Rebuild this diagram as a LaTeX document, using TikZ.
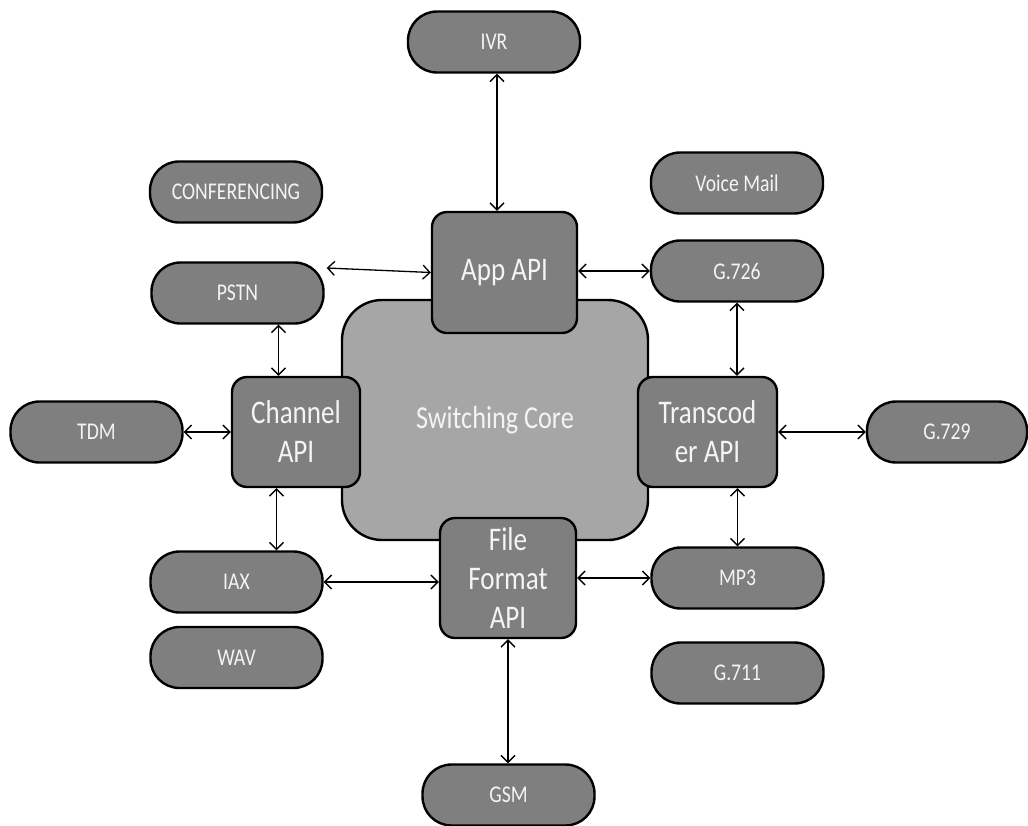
\documentclass[tikz,border=0pt]{standalone}
\usepackage{fontspec}
\setmainfont{Carlito}[FakeStretch=0.82]
\usetikzlibrary{arrows.meta,calc}
\definecolor{pillgray}{HTML}{7F7F7F}
\definecolor{coregray}{HTML}{A6A6A6}
\definecolor{txtwhite}{HTML}{F4F4F4}
\tikzset{
  pill/.style={draw=black, line width=2.4pt, fill=pillgray, rounded corners=29pt,
    minimum width=172pt, minimum height=61pt, inner sep=0pt, text=txtwhite,
    font=\fontsize{24}{28}\selectfont},
  apibox/.style={draw=black, line width=2.4pt, fill=pillgray, rounded corners=15pt,
    inner sep=0pt, text=txtwhite, align=center, font=\fontsize{33}{39}\selectfont},
  corebox/.style={draw=black, line width=2.4pt, fill=coregray, rounded corners=40pt,
    inner sep=0pt, text=txtwhite, font=\fontsize{32}{38}\selectfont},
  link/.style={line width=1.3pt, {Straight Barb[length=7pt,width=14pt]}-{Straight Barb[length=7pt,width=14pt]}}
}
\begin{document}
\begin{tikzpicture}[x=1pt,y=-1pt]
\useasboundingbox[fill=white] (0,0) rectangle (1028,825);
% central core
\node[corebox, minimum width=306pt, minimum height=240pt] (core) at (495,420) {Switching Core};
% API boxes
\node[apibox, minimum width=145pt, minimum height=121pt] (app) at (504.5,272.5) {App API};
\node[apibox, minimum width=128pt, minimum height=110pt] (chan) at (296,432) {Channel\\API};
\node[apibox, minimum width=139pt, minimum height=110pt] (trans) at (707.5,432) {Transcod\\er API};
\node[apibox, minimum width=136pt, minimum height=120pt] (ffa) at (508,578) {File\\Format\\API};
% pills
\node[pill] (ivr) at (494,42) {IVR};
\node[pill] (conf) at (236,192) {CONFERENCING};
\node[pill] (vm) at (737,183) {Voice Mail};
\node[pill] (pstn) at (237.5,293) {PSTN};
\node[pill] (g726) at (737,271) {G.726};
\node[pill] (tdm) at (96.5,432) {TDM};
\node[pill, minimum width=160pt] (g729) at (947,432) {G.729};
\node[pill] (iax) at (236.5,582) {IAX};
\node[pill] (wav) at (236.5,657.5) {WAV};
\node[pill] (mp3) at (737.5,578) {MP3};
\node[pill] (g711) at (737.5,673) {G.711};
\node[pill] (gsm) at (508.5,795) {GSM};
% connectors
\draw[link] ([xshift=3pt]ivr.south) -- ([xshift=3pt]ivr.south |- app.north);
\draw[link] ([shift={(2,-25)}]pstn.east) -- (app.west);
\draw[link] (g726.west -| app.east) -- (g726.west);
\draw[link] (g726.south) -- (g726.south |- trans.north);
\draw[link] ([xshift=41pt]pstn.south) -- ([xshift=41pt]pstn.south |- chan.north);
\draw[link] (tdm.east) -- (chan.west);
\draw[link] (trans.east) -- (g729.west);
\draw[link] ([xshift=40pt]iax.north |- chan.south) -- ([xshift=40pt]iax.north);
\draw[link] (mp3.north |- trans.south) -- (mp3.north);
\draw[link] (iax.east) -- (iax.east -| ffa.west);
\draw[link] (mp3.west -| ffa.east) -- (mp3.west);
\draw[link] (ffa.south) -- (ffa.south |- gsm.north);
\end{tikzpicture}
\end{document}
